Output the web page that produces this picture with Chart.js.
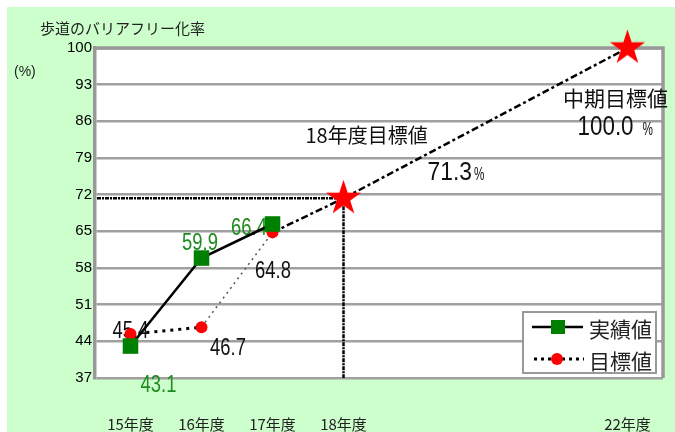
<!DOCTYPE html>
<html lang="ja">
<head>
<meta charset="utf-8">
<title>歩道のバリアフリー化率</title>
<script src="https://cdn.jsdelivr.net/npm/chart.js@4.4.1/dist/chart.umd.min.js"></script>
<style>
  html, body { margin: 0; padding: 0; background: #fff; }
  #wrap { width: 675px; height: 432px; }
</style>
</head>
<body>
<div id="wrap"><canvas id="chart" width="675" height="432"></canvas></div>
<script>
// fiscal years (Heisei) on the x axis
const tickYears = [15, 16, 17, 18, 22];
const tickLabels = ["15年度", "16年度", "17年度", "18年度", "22年度"];
const yTickValues = [37, 44, 51, 58, 65, 72, 79, 86, 93, 100];

// results
const actualYears = [15, 16, 17];
const actualValues = [43.1, 59.9, 66.4];

// targets (last two are the FY18 and mid-term goals)
const targetYears = [15, 16, 17, 18, 22];
const targetValues = [45.4, 46.7, 64.8, 71.3, 100.0];

const GREEN_TEXT = "#1e8c1e";
const NUM_FONT = "Liberation Sans, Arial, sans-serif";
const JP_FONT = "'Noto Sans CJK JP', sans-serif";

// filled red star used as point style for the goal points
function makeStar(r) {
  const c = document.createElement("canvas");
  c.width = c.height = Math.ceil(r * 2 + 2);
  const g = c.getContext("2d");
  const cx = c.width / 2, cy = c.height / 2;
  g.beginPath();
  for (let i = 0; i < 10; i++) {
    const rad = i % 2 ? r * 0.382 : r;
    const a = -Math.PI / 2 + i * Math.PI / 5;
    g.lineTo(cx + rad * Math.cos(a), cy + rad * Math.sin(a));
  }
  g.closePath();
  g.fillStyle = "#ff0000";
  g.fill();
  return c;
}
const star = makeStar(18.5);

// per-segment line styles of the target series
const targetSegStyle = [
  { dash: [3, 5], width: 3, color: "#000" },
  { dash: [2, 4], width: 1.5, color: "#555" },
  { dash: [7, 3, 3, 3], width: 2.5, color: "#000" },
  { dash: [7, 3, 3, 3], width: 2.5, color: "#000" }
];

// draws text squeezed horizontally (narrow figures)
function squeezed(ctx, text, x, y, font, color, sx, align) {
  ctx.save();
  ctx.font = font;
  ctx.fillStyle = color;
  ctx.textAlign = align || "center";
  ctx.textBaseline = "alphabetic";
  ctx.translate(x, y);
  ctx.scale(sx, 1);
  ctx.fillText(text, 0, 0);
  const w = ctx.measureText(text).width * sx;
  ctx.restore();
  return w;
}

// value label offsets (from the point) for each series
const actualLabelOffsets = [[28, 46], [-1.5, -8], [-23.5, 11]];
const targetLabelOffsets = [[0, 4], [26.5, 28], [0.5, 45.5]];

const backgroundPlugin = {
  id: "background",
  beforeDraw(chart) {
    const { ctx, width, height, chartArea: a } = chart;
    ctx.save();
    ctx.fillStyle = "#fff";
    ctx.fillRect(0, 0, width, height);
    ctx.fillStyle = "#ccffcc";
    ctx.fillRect(7, 7, width - 7, height - 7);
    ctx.fillStyle = "#fff";
    ctx.fillRect(a.left, a.top, a.right - a.left, a.bottom - a.top);
    // title and unit
    ctx.fillStyle = "#222";
    ctx.font = "15px " + JP_FONT;
    ctx.textBaseline = "middle";
    ctx.fillText("歩道のバリアフリー化率", 40, 28);
    ctx.font = "14px " + NUM_FONT;
    ctx.fillText("(%)", 14, 72);
    ctx.restore();
  }
};

const overlayPlugin = {
  id: "overlay",
  beforeDatasetsDraw(chart) {
    const { ctx, chartArea: a, scales: { x, y } } = chart;
    ctx.save();
    // plot frame (top and right)
    ctx.strokeStyle = "#999";
    ctx.lineWidth = 3.5;
    ctx.beginPath();
    ctx.moveTo(a.left, a.top);
    ctx.lineTo(a.right, a.top);
    ctx.lineTo(a.right, a.bottom);
    ctx.stroke();
    // guide lines to the FY18 goal
    const gx = x.getPixelForValue(targetYears[3]);
    const gy = y.getPixelForValue(targetValues[3]);
    ctx.strokeStyle = "#000";
    ctx.lineWidth = 2.5;
    ctx.setLineDash([4, 1, 2, 1]);
    ctx.beginPath();
    ctx.moveTo(a.left + 2, gy);
    ctx.lineTo(gx, gy);
    ctx.moveTo(gx, gy);
    ctx.lineTo(gx, a.bottom);
    ctx.stroke();
    ctx.setLineDash([]);

    // value labels
    const font = "23px " + NUM_FONT;
    chart.getDatasetMeta(0).data.forEach((p, i) => {
      const [dx, dy] = actualLabelOffsets[i];
      squeezed(ctx, actualValues[i].toFixed(1), p.x + dx, p.y + dy, font, GREEN_TEXT, 0.8);
    });
    chart.getDatasetMeta(1).data.slice(0, 3).forEach((p, i) => {
      const [dx, dy] = targetLabelOffsets[i];
      squeezed(ctx, targetValues[i].toFixed(1), p.x + dx, p.y + dy, font, "#111", 0.8);
    });

    // goal annotations
    const g18 = chart.getDatasetMeta(1).data[3];
    const g22 = chart.getDatasetMeta(1).data[4];
    ctx.fillStyle = "#111";
    ctx.font = "20px " + JP_FONT;
    ctx.textAlign = "left";
    ctx.textBaseline = "middle";
    ctx.fillText("18年度目標値", g18.x - 38, g18.y - 63);
    let w = squeezed(ctx, targetValues[3].toFixed(1), g18.x + 84, g18.y - 18, "26px " + NUM_FONT, "#111", 0.88, "left");
    squeezed(ctx, "%", g18.x + 86 + w, g18.y - 18, "18px " + NUM_FONT, "#111", 0.65, "left");

    ctx.font = "21px " + JP_FONT;
    ctx.textAlign = "center";
    ctx.textBaseline = "middle";
    ctx.fillText("中期目標値", g22.x - 12, g22.y + 50);
    w = squeezed(ctx, targetValues[4].toFixed(1), g22.x - 50, g22.y + 87, "27px " + NUM_FONT, "#111", 0.83, "left");
    squeezed(ctx, "%", g22.x - 41 + w, g22.y + 87, "18px " + NUM_FONT, "#111", 0.65, "left");
    ctx.restore();
  }
};

// boxed legend inside the plot
const legendPlugin = {
  id: "boxLegend",
  afterDraw(chart) {
    const ctx = chart.ctx;
    const bx = 523, by = 312, bw = 133, bh = 61;
    ctx.save();
    ctx.fillStyle = "#fff";
    ctx.fillRect(bx, by, bw, bh);
    ctx.strokeStyle = "#999";
    ctx.lineWidth = 2;
    ctx.strokeRect(bx, by, bw, bh);

    const r1 = by + 15, r2 = by + 47;
    ctx.strokeStyle = "#000";
    ctx.lineWidth = 2.5;
    ctx.beginPath();
    ctx.moveTo(532, r1);
    ctx.lineTo(583, r1);
    ctx.stroke();
    ctx.fillStyle = "#008000";
    ctx.fillRect(551, r1 - 7, 14, 14);

    ctx.lineWidth = 3;
    ctx.setLineDash([3, 4]);
    ctx.beginPath();
    ctx.moveTo(534, r2);
    ctx.lineTo(584, r2);
    ctx.stroke();
    ctx.setLineDash([]);
    ctx.fillStyle = "#ff0000";
    ctx.beginPath();
    ctx.arc(557, r2, 6, 0, Math.PI * 2);
    ctx.fill();

    ctx.fillStyle = "#222";
    ctx.font = "21px " + JP_FONT;
    ctx.textBaseline = "middle";
    ctx.textAlign = "left";
    ctx.fillText("実績値", 589, r1 + 2);
    ctx.fillText("目標値", 589, r2 + 2);
    ctx.restore();
  }
};

new Chart(document.getElementById("chart"), {
  type: "line",
  data: {
    datasets: [
      {
        label: "実績値",
        data: actualYears.map((yr, i) => ({ x: yr, y: actualValues[i] })),
        borderColor: "#000",
        borderWidth: 2.5,
        pointStyle: "rect",
        pointRadius: 11,
        pointBackgroundColor: "#008000",
        pointBorderWidth: 0,
        clip: false
      },
      {
        label: "目標値",
        data: targetYears.map((yr, i) => ({ x: yr, y: targetValues[i] })),
        borderColor: "#000",
        pointStyle: ["circle", "circle", "circle", star, star],
        pointRadius: [6, 6, 6, 18, 18],
        pointBackgroundColor: "#ff0000",
        pointBorderWidth: 0,
        clip: false,
        segment: {
          borderDash: c => targetSegStyle[c.p0DataIndex].dash,
          borderWidth: c => targetSegStyle[c.p0DataIndex].width,
          borderColor: c => targetSegStyle[c.p0DataIndex].color
        }
      }
    ]
  },
  options: {
    responsive: false,
    devicePixelRatio: 1,
    animation: false,
    // the big star markers would otherwise add automatic padding
    layout: { autoPadding: false, padding: { top: 48, right: 12, left: 0, bottom: 0 } },
    plugins: { legend: { display: false }, tooltip: { enabled: false } },
    scales: {
      x: {
        type: "linear",
        min: 14.5,
        max: 22.5,
        afterBuildTicks: s => { s.ticks = tickYears.map(v => ({ value: v })); },
        afterFit: s => {
          s.height = 54;
          s.paddingLeft = 0;
          s.paddingRight = 0;
        },
        ticks: {
          autoSkip: false,
          maxRotation: 0,
          padding: 37,
          color: "#222",
          font: { family: JP_FONT, size: 15 },
          callback: v => tickLabels[tickYears.indexOf(v)] || ""
        },
        grid: { display: false, drawTicks: false },
        border: { display: false }
      },
      y: {
        min: 37,
        max: 100,
        afterBuildTicks: s => { s.ticks = yTickValues.map(v => ({ value: v })); },
        afterFit: s => { s.width = 95; },
        ticks: {
          padding: 3,
          color: "#000",
          font: { family: NUM_FONT, size: 15 }
        },
        grid: { color: "#a0a0a0", lineWidth: 2.5, drawTicks: false },
        border: { color: "#999", width: 3.5 }
      }
    }
  },
  plugins: [backgroundPlugin, overlayPlugin, legendPlugin]
});
</script>
</body>
</html>
